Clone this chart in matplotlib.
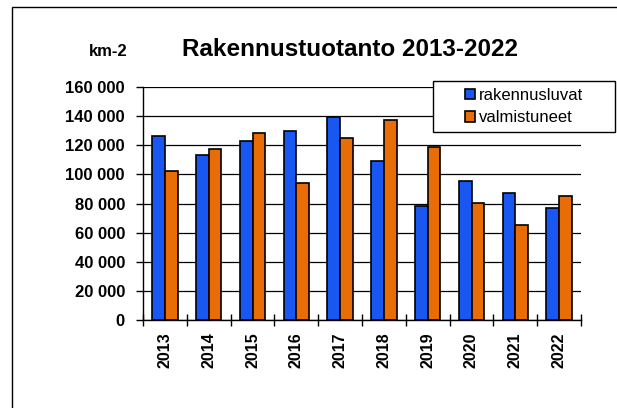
import numpy as np
import matplotlib.pyplot as plt
from matplotlib.patches import Rectangle

plt.rcParams['font.family'] = ['Liberation Sans', 'DejaVu Sans']

years = ['2013', '2014', '2015', '2016', '2017', '2018', '2019', '2020', '2021', '2022']
rakennusluvat = [126500, 113000, 122800, 130000, 139500, 109500, 78000, 95700, 87200, 76700]
valmistuneet = [102200, 117500, 128700, 94000, 124800, 137500, 119000, 80300, 65000, 85200]

blue = '#1857f2'
orange = '#e96d07'

W, H = 617, 408
fig = plt.figure(figsize=(W / 100, H / 100), dpi=100)
ax = fig.add_axes([143 / W, 1 - 320 / H, (581 - 143) / W, (320 - 87) / H])

x = np.arange(len(years))
w = 0.29
ax.bar(x - w / 2, rakennusluvat, w, color=blue, edgecolor='black', linewidth=1.2,
       label='rakennusluvat', zorder=3)
ax.bar(x + w / 2, valmistuneet, w, color=orange, edgecolor='black', linewidth=1.2,
       label='valmistuneet', zorder=3)

ax.set_xlim(-0.5, len(years) - 0.5)
ax.set_ylim(0, 160000)
yt = np.arange(0, 160001, 20000)
ax.set_yticks(yt)
ax.set_yticklabels([f'{v:,}'.replace(',', ' ') for v in yt], fontsize=12, fontweight='bold')
ax.yaxis.grid(True, color='black', linewidth=0.9, zorder=0)
ax.set_axisbelow(True)

ax.set_xticks(x)
ax.set_xticklabels(years, rotation=90, fontsize=11.5, fontweight='bold')
ax.tick_params(axis='x', length=0, pad=9)
ax.set_xticks(np.arange(-0.5, len(years)), minor=True)
ax.tick_params(axis='x', which='minor', direction='inout', length=8, width=1)
ax.tick_params(axis='y', direction='out', length=5, width=1, pad=8)

for s in ['top', 'right']:
    ax.spines[s].set_visible(False)
for s in ['left', 'bottom']:
    ax.spines[s].set_linewidth(1)

# legend box
bx0, by0, bx1, by1 = 433, 81, 615, 132
fig.patches.append(Rectangle((bx0 / W, 1 - by1 / H), (bx1 - bx0) / W, (by1 - by0) / H,
                             transform=fig.transFigure, facecolor='white',
                             edgecolor='black', linewidth=1, zorder=5))
handles, labels = ax.get_legend_handles_labels()
leg = fig.legend(handles, labels, loc='center',
                 bbox_to_anchor=((bx0 + bx1) / 2 / W, 1 - (by0 + by1) / 2 / H),
                 fontsize=12, frameon=False,
                 handlelength=0.6, handleheight=0.6, handletextpad=0.25,
                 borderpad=0, labelspacing=0.45)
leg.set_zorder(6)

fig.text(350 / W, 1 - 50 / H, 'Rakennustuotanto 2013-2022', ha='center', va='center',
         fontsize=17.5, fontweight='bold')
fig.text(108 / W, 1 - 52 / H, 'km-2', ha='center', va='center',
         fontsize=12, fontweight='bold')

fig.patches.append(Rectangle((12 / W, -0.1), 1.2, 1 - 7 / H + 0.1,
                             transform=fig.transFigure, fill=False,
                             edgecolor='black', linewidth=1))

fig.savefig('out.png', dpi=100)
